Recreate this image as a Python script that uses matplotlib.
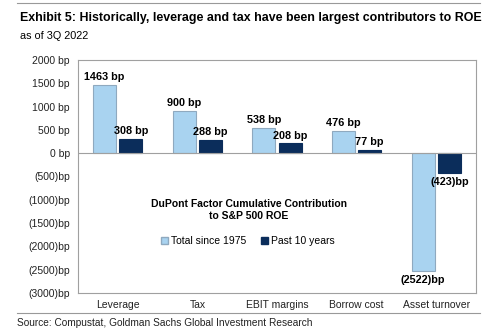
import numpy as np
import matplotlib.pyplot as plt
from matplotlib.patches import Patch
from matplotlib.lines import Line2D

plt.rcParams['font.family'] = ['Liberation Sans', 'DejaVu Sans']

categories = ["Leverage", "Tax", "EBIT margins", "Borrow cost", "Asset turnover"]
total_since_1975 = [1463, 900, 538, 476, -2522]
past_10_years = [308, 288, 208, 77, -423]
yticks = [2000, 1500, 1000, 500, 0, -500, -1000, -1500, -2000, -2500, -3000]


def bp(v):
    return f"{v} bp" if v >= 0 else f"({-v})bp"


light = "#A9D3F0"
dark = "#0B2D5B"

fig = plt.figure(figsize=(5, 3.35), dpi=100)
ax = fig.add_axes([0.156, 0.126, 0.796, 0.695])

x = np.arange(len(categories))
w = 0.29
off = 0.165
b1 = ax.bar(x - off, total_since_1975, w, color=light, edgecolor="#8FA9BF", linewidth=0.8)
b2 = ax.bar(x + off, past_10_years, w, color=dark, edgecolor=dark, linewidth=0.8)

for bars, vals in ((b1, total_since_1975), (b2, past_10_years)):
    for b, v in zip(bars, vals):
        cx = b.get_x() + b.get_width() / 2
        if v >= 0:
            ax.text(cx, v + 60, bp(v), ha="center", va="bottom", fontsize=7.8, fontweight="bold")
        else:
            ax.text(cx, v - 90, bp(v), ha="center", va="top", fontsize=7.8, fontweight="bold")

ax.set_xlim(-0.5, len(categories) - 0.5)
ax.set_ylim(-3000, 2000)
ax.set_yticks(yticks)
ax.set_yticklabels([bp(v) for v in yticks], fontsize=7.5, color="#222222")
ax.set_xticks(x)
ax.set_xticklabels(categories, fontsize=7.5, color="#222222")
ax.tick_params(length=0, pad=6)
ax.tick_params(axis="x", pad=5)
for s in ax.spines.values():
    s.set_color("#A0A0A0")
    s.set_linewidth(0.8)
ax.axhline(0, color="#A0A0A0", linewidth=0.8)

ax.text(0.43, 0.355, "DuPont Factor Cumulative Contribution\nto S&P 500 ROE", transform=ax.transAxes,
        ha="center", va="center", fontsize=7.5, fontweight="bold", linespacing=1.3)
handles = [Patch(facecolor=light, edgecolor="#8FA9BF", label="Total since 1975"),
           Patch(facecolor=dark, edgecolor=dark, label="Past 10 years")]
ax.legend(handles=handles, loc="center", bbox_to_anchor=(0.427, 0.222), ncol=2, frameon=False,
          fontsize=7.5, handlelength=0.7, handleheight=0.7, handletextpad=0.3, columnspacing=1.4)

fig.add_artist(Line2D([0.034, 0.96], [0.99, 0.99], color="#999999", linewidth=0.8))
fig.text(0.04, 0.945, "Exhibit 5: Historically, leverage and tax have been largest contributors to ROE",
         fontsize=8.95, fontweight="bold", va="center")
fig.text(0.04, 0.893, "as of 3Q 2022", fontsize=7.8, va="center")
fig.add_artist(Line2D([0.034, 0.96], [0.066, 0.066], color="#999999", linewidth=0.8))
fig.text(0.034, 0.035, "Source: Compustat, Goldman Sachs Global Investment Research", fontsize=7.3,
         va="center", color="#222222")

fig.savefig("out.png", dpi=100)
